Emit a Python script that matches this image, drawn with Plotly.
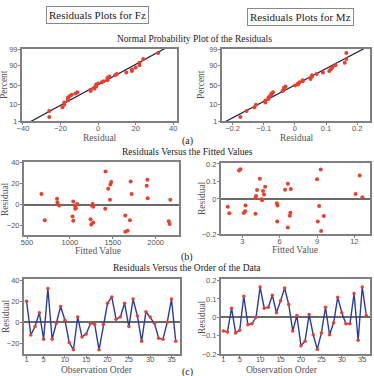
import statistics
import plotly.graph_objects as go

# ---------------- data ----------------
obs = list(range(1, 37))
fz_resid = [20, -12, -4, 9, -16, 32, -16, -1, 15, 2, -19, -26, 5, -14, -11, -1, -2, -26,
            -2, 18, 24, 3, 5, 18, -4, 22, 6, -18, 10, 5, -1, -15, -16, 0, 22, -18]
mz_resid = [-0.075, -0.08, 0.05, -0.085, -0.07, 0.115, -0.04, -0.035, 0.0, 0.165, 0.05, 0.055,
            0.12, 0.025, 0.09, 0.16, 0.07, -0.075, 0.01, -0.155, -0.13, 0.015, -0.095, -0.175,
            -0.085, 0.055, -0.095, -0.03, 0.11, 0.025, -0.035, -0.035, 0.13, -0.125, 0.165, 0.01]

fz_fit_x = [668, 707, 850, 854, 875, 1039, 1031, 1039, 1058, 1070, 1062, 1085, 1241, 1249, 1257,
            1265, 1272, 1272, 1416, 1412, 1447, 1471, 1482, 1467, 1646, 1646, 1673, 1700, 1708,
            1720, 1895, 1903, 1907, 2152, 2163, 2171]
fz_fit_y = [10, -15, 5.5, 2, -1, 3, -11.5, -15.5, -1, -3.5, -4, 0.5, -14, -19, -1, 0.5, -2, -17,
            31.5, -4, 15, 19, 21.5, 4.5, -10.5, -26, -25, -15, 22, 10, 18, 23.5, 6, -16, -18.5, 4.5]
mz_fit_x = [1.82, 1.95, 2.73, 2.84, 3.11, 3.22, 3.25, 4.05, 4.05, 4.10, 4.18, 4.40, 4.56, 4.58,
            4.66, 4.74, 4.83, 5.77, 5.82, 5.80, 6.43, 6.65, 6.65, 6.81, 6.86, 6.89, 9.00, 9.06,
            9.17, 9.30, 9.33, 9.54, 12.10, 12.43, 12.65]
mz_fit_y = [-0.044, -0.082, 0.162, 0.17, -0.08, -0.07, -0.038, -0.085, 0.006, 0.017, 0.051, 0.115,
            -0.002, -0.008, 0.045, 0.025, 0.07, -0.025, -0.038, -0.128, 0.053, 0.087, -0.163,
            -0.096, -0.079, 0.057, 0.112, -0.128, -0.04, 0.168, -0.183, -0.098, 0.028, 0.134, 0.009]

pct_ticks = [1, 10, 50, 90, 99]

# ---------------- styles ----------------
RED = "#e8402c"
BLUE = "#2c3b9e"
GRAY = "#808080"
TXT = "#555555"
SERIF = "Liberation Serif, Times New Roman, serif"
SANS = "Liberation Sans, Arial, sans-serif"

nd = statistics.NormalDist()
W, H = 374, 376


def dx(a, b):
    return [a / W, b / W]


def dy(top, bottom):
    return [1 - bottom / H, 1 - top / H]


fig = go.Figure()


def prob_data(res):
    s = sorted(res)
    n = len(s)
    z = [nd.inv_cdf((i + 1 - 0.3) / (n + 0.4)) for i in range(n)]
    mu = statistics.mean(res)
    sd = statistics.stdev(res)
    zl = [-3, 3]
    xl = [mu + sd * v for v in zl]
    return s, z, xl, zl


# Row 1: normal probability plots
for k, res in ((1, fz_resid), (2, mz_resid)):
    s, z, xl, zl = prob_data(res)
    xa = "x" if k == 1 else "x2"
    ya = "y" if k == 1 else "y2"
    fig.add_trace(go.Scatter(x=xl, y=zl, mode="lines", line=dict(color="#1c1c3c", width=1.2),
                             xaxis=xa, yaxis=ya, hoverinfo="skip"))
    fig.add_trace(go.Scatter(x=s, y=z, mode="markers", marker=dict(color=RED, size=4),
                             xaxis=xa, yaxis=ya, cliponaxis=False))

# Row 2: residuals vs fitted
fig.add_trace(go.Scatter(x=fz_fit_x, y=fz_fit_y, mode="markers", marker=dict(color=RED, size=4),
                         xaxis="x3", yaxis="y3"))
fig.add_trace(go.Scatter(x=mz_fit_x, y=mz_fit_y, mode="markers", marker=dict(color=RED, size=4),
                         xaxis="x4", yaxis="y4"))

# Row 3: residuals vs order
fig.add_trace(go.Scatter(x=obs, y=fz_resid, mode="lines+markers", line=dict(color=BLUE, width=1.4),
                         marker=dict(color=RED, size=3.5), xaxis="x5", yaxis="y5"))
fig.add_trace(go.Scatter(x=obs, y=mz_resid, mode="lines+markers", line=dict(color=BLUE, width=1.4),
                         marker=dict(color=RED, size=3.5), xaxis="x6", yaxis="y6"))


def ax(domain, rng, tickvals, ticktext=None, anchor=None, zero=False, standoff=-3):
    d = dict(domain=domain, range=rng, tickvals=tickvals, showgrid=False,
             showline=True, mirror=True, linecolor=GRAY, linewidth=2,
             ticks="outside", ticklen=2, tickcolor=GRAY, tickwidth=1,
             tickfont=dict(family=SANS, size=7.5, color=TXT),
             ticklabelstandoff=standoff,
             zeroline=zero, zerolinecolor="#6a6a6a", zerolinewidth=2,
             anchor=anchor, automargin=False)
    if ticktext is not None:
        d["ticktext"] = ticktext
    return d


zt = [nd.inv_cdf(p / 100) for p in pct_ticks]
zr = [nd.inv_cdf(0.01), nd.inv_cdf(0.99)]
order_ticks = [1, 5, 10, 15, 20, 25, 30, 35]
pct_text = [str(p) for p in pct_ticks]

fig.update_layout(
    width=W, height=376, margin=dict(l=0, r=0, t=0, b=0),
    paper_bgcolor="white", plot_bgcolor="white", showlegend=False,
    xaxis=ax(dx(22, 177), [-40.5, 42], [-40, -20, 0, 20, 40], anchor="y"),
    yaxis=ax(dy(49, 121), zr, zt, pct_text, anchor="x", standoff=-1),
    xaxis2=ax(dx(222, 370), [-0.234, 0.241], [-0.2, -0.1, 0, 0.1, 0.2], anchor="y2"),
    yaxis2=ax(dy(49, 121), zr, zt, pct_text, anchor="x2", standoff=-1),
    xaxis3=ax(dx(24, 179), [465, 2272], [500, 1000, 1500, 2000], anchor="y3"),
    yaxis3=ax(dy(162, 235), [-29, 40.5], [-20, 0, 20, 40], anchor="x3", zero=True, standoff=-1),
    xaxis4=ax(dx(221, 370), [1.28, 13.26], [3, 6, 9, 12], anchor="y4"),
    yaxis4=ax(dy(163, 234), [-0.2, 0.205], [-0.2, 0, 0.1, 0.2], anchor="x4", zero=True, standoff=-1),
    xaxis5=ax(dx(24, 180), [0.4, 37], order_ticks, anchor="y5", standoff=-5),
    yaxis5=ax(dy(279, 354), [-30, 41], [-20, 0, 20, 40], anchor="x5", zero=True, standoff=-1),
    xaxis6=ax(dx(221, 370), [0.42, 36.9], order_ticks, anchor="y6", standoff=-5),
    yaxis6=ax(dy(279, 354), [-0.2, 0.209], [-0.2, -0.1, 0, 0.1, 0.2], anchor="x6", zero=True,
              standoff=-1),
)


def note(text, x, y, size=10, box=False, color="#222", angle=0):
    a = dict(text=text, x=x / W, y=1 - y / H, xref="paper", yref="paper", showarrow=False,
             font=dict(family=SERIF, size=size, color=color), xanchor="center", yanchor="middle",
             textangle=angle)
    if box:
        a.update(bordercolor="#888", borderwidth=1, borderpad=2, bgcolor="white")
    fig.add_annotation(**a)


note("Residuals Plots for Fz", 97, 15, size=11, box=True)
note("Residuals Plots for Mz", 300, 17, size=11, box=True)
note("Normal Probability Plot of the Residuals", 194, 39, size=9.5)
note("(a)", 187, 141, size=10)
note("Residuals Versus the Fitted Values", 187, 152, size=9.5)
note("(b)", 187, 257, size=10)
note("Residuals Versus the Order of the Data", 187, 268, size=9.5)
note("(c)", 187, 372, size=10)

# axis titles
note("Residual", 100, 138, size=9.5, color=TXT)
note("Percent", 4, 85, size=9.5, color=TXT, angle=-90)
note("Residual", 297, 138, size=9.5, color=TXT)
note("Percent", 201, 85, size=9.5, color=TXT, angle=-90)
note("Fitted Value", 98, 251, size=9.5, color=TXT)
note("Residual", 5, 199, size=9.5, color=TXT, angle=-90)
note("Fitted Value", 295, 250, size=9.5, color=TXT)
note("Residual", 202, 198, size=9.5, color=TXT, angle=-90)
note("Observation Order", 97, 370, size=9.5, color=TXT)
note("Residual", 6, 316, size=9.5, color=TXT, angle=-90)
note("Observation Order", 282, 370, size=9.5, color=TXT)
note("Residual", 202, 317, size=9.5, color=TXT, angle=-90)

fig.write_html("out.html")
